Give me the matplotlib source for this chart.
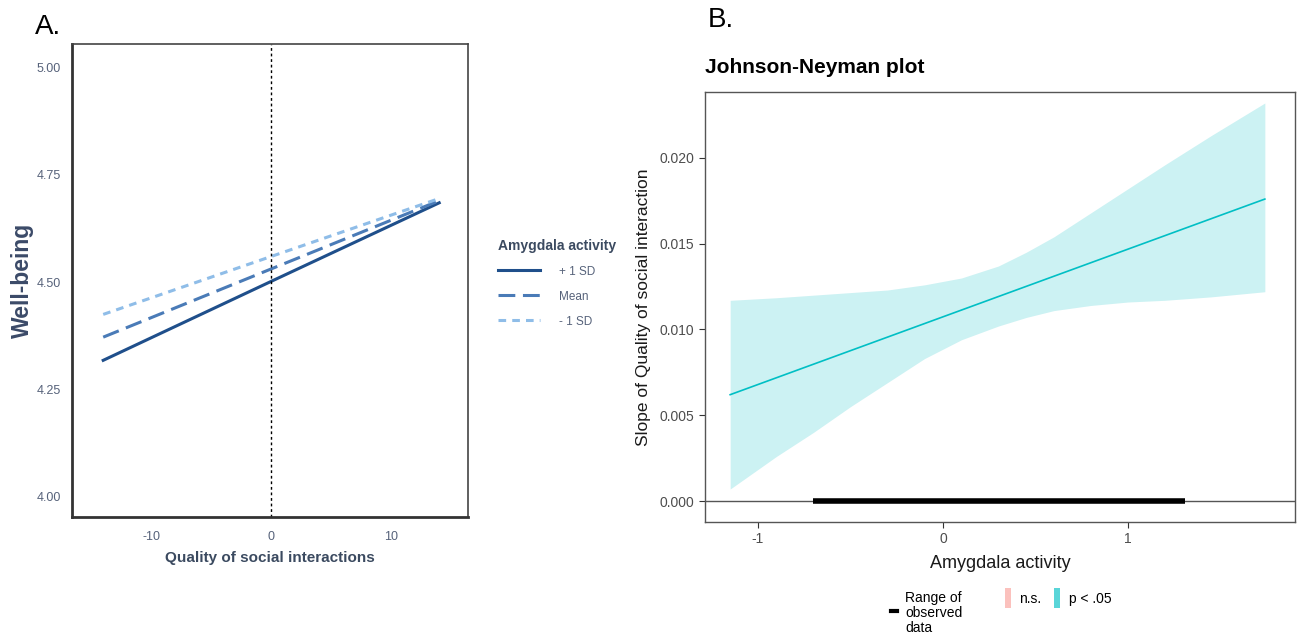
import matplotlib
matplotlib.use("Agg")
import matplotlib.pyplot as plt
from matplotlib.patches import Rectangle
from matplotlib.lines import Line2D

plt.rcParams['font.family'] = ['Liberation Sans', 'DejaVu Sans']
plt.rcParams['axes.unicode_minus'] = False

# Panel A: simple slopes
quality_x = [-14, 0, 14]
plus_sd = [4.318, 4.502, 4.685]
mean_sd = [4.372, 4.531, 4.690]
minus_sd = [4.425, 4.560, 4.695]
series_labels = ["+ 1 SD", "Mean", "- 1 SD"]

# Panel B: Johnson-Neyman
jn_x = [-1.15, -0.9, -0.7, -0.5, -0.3, -0.1, 0.1, 0.3, 0.45, 0.6, 0.8, 1.0, 1.2, 1.45, 1.74]
jn_upper = [0.0117, 0.01185, 0.0120, 0.01215, 0.0123, 0.0126, 0.0130, 0.0137, 0.0145,
            0.0154, 0.0168, 0.0182, 0.0196, 0.0213, 0.0232]
jn_lower = [0.0007, 0.0026, 0.0040, 0.0055, 0.0069, 0.0083, 0.0094, 0.0102, 0.0107,
            0.0111, 0.0114, 0.0116, 0.0117, 0.0119, 0.0122]
slope_x = [-1.15, 1.74]
slope_y = [0.0062, 0.0176]
observed_range = [-0.70, 1.31]

W, H = 1298, 635
fig = plt.figure(figsize=(W / 100, H / 100), dpi=100)

# ---------- panel A ----------
axA = fig.add_axes([72 / W, 1 - 517 / H, 396 / W, 473 / H])
dark = '#1f4f8b'
mid = '#4a7bb7'
light = '#8fbde8'
axA.plot(quality_x, plus_sd, color=dark, lw=2.2, label=series_labels[0])
axA.plot(quality_x, mean_sd, color=mid, lw=2.2, dashes=(5.5, 2.5), label=series_labels[1])
axA.plot(quality_x, minus_sd, color=light, lw=2.2, dashes=(2.5, 2), label=series_labels[2])
axA.axvline(0, color='black', lw=1, ls=(0, (2, 2)))
axA.set_xlim(-16.6, 16.4)
axA.set_ylim(3.953, 5.055)
axA.set_xticks([-10, 0, 10])
axA.set_yticks([4.00, 4.25, 4.50, 4.75, 5.00])
axA.set_yticklabels(["4.00", "4.25", "4.50", "4.75", "5.00"])
axA.tick_params(length=0, labelsize=9, labelcolor='#56627a', pad=8)
axA.tick_params(axis='x', pad=10)
for side in ['left', 'bottom']:
    axA.spines[side].set_linewidth(2)
    axA.spines[side].set_color('#333333')
for side in ['top', 'right']:
    axA.spines[side].set_linewidth(1.2)
    axA.spines[side].set_color('#444444')
axA.set_xlabel("Quality of social interactions", fontsize=11, fontweight='bold',
               color='#3b4a60', labelpad=6)
axA.set_ylabel("Well-being", fontsize=16.5, fontweight='bold', color='#3b4a68', labelpad=2)

leg = axA.legend(loc='upper left', bbox_to_anchor=(487 / W, 1 - 228 / H),
                 bbox_transform=fig.transFigure, frameon=False,
                 title="Amygdala activity", fontsize=8.5, handlelength=3.6,
                 labelspacing=1.1, handletextpad=1.6, alignment='left')
leg.get_title().set_fontweight('bold')
leg.get_title().set_fontsize(10)
leg.get_title().set_color('#3b4a60')
for t in leg.get_texts():
    t.set_color('#56627a')

fig.text(35 / W, 1 - 27 / H, "A.", fontsize=20, va='center', ha='left')

# ---------- panel B ----------
axB = fig.add_axes([705 / W, 1 - 522 / H, 590 / W, 430 / H])
teal = '#00BFC4'
axB.fill_between(jn_x, jn_lower, jn_upper, color=teal, alpha=0.2, lw=0)
axB.plot(slope_x, slope_y, color=teal, lw=1.2)
axB.axhline(0, color='#555555', lw=1)
axB.plot(observed_range, [0, 0], color='black', lw=4, solid_capstyle='butt')
axB.set_xlim(-1.286, 1.903)
axB.set_ylim(-0.00122, 0.02384)
axB.set_xticks([-1, 0, 1])
axB.set_yticks([0.000, 0.005, 0.010, 0.015, 0.020])
axB.set_yticklabels(["0.000", "0.005", "0.010", "0.015", "0.020"])
axB.tick_params(labelsize=10, labelcolor='#4d4d4d', color='#333333', length=4, width=0.8)
for side in axB.spines:
    axB.spines[side].set_color('#555555')
    axB.spines[side].set_linewidth(1)
axB.set_xlabel("Amygdala activity", fontsize=13, color='#1a1a1a', labelpad=6)
axB.set_ylabel("Slope of Quality of social interaction", fontsize=12.5, color='#1a1a1a', labelpad=6)
axB.set_title("Johnson-Neyman plot", fontsize=15, fontweight='bold', loc='left', pad=14)

fig.text(708 / W, 1 - 20 / H, "B.", fontsize=20, va='center', ha='left')

# bottom legend of panel B
fig.add_artist(Line2D([891 / W, 897 / W], [1 - 611 / H, 1 - 611 / H],
                      color='black', lw=3, transform=fig.transFigure))
fig.text(905 / W, 1 - 613 / H, "Range of\nobserved\ndata", fontsize=10,
         va='center', ha='left', linespacing=1.1)
fig.add_artist(Rectangle((1005 / W, 1 - 608 / H), 6 / W, 20 / H, color='#F8766D',
                         alpha=0.45, lw=0, transform=fig.transFigure))
fig.text(1019 / W, 1 - 599 / H, "n.s.", fontsize=10, va='center', ha='left')
fig.add_artist(Rectangle((1054 / W, 1 - 608 / H), 6 / W, 20 / H, color=teal,
                         alpha=0.65, lw=0, transform=fig.transFigure))
fig.text(1069 / W, 1 - 599 / H, "p < .05", fontsize=10, va='center', ha='left')

fig.savefig("out.png", dpi=100)
